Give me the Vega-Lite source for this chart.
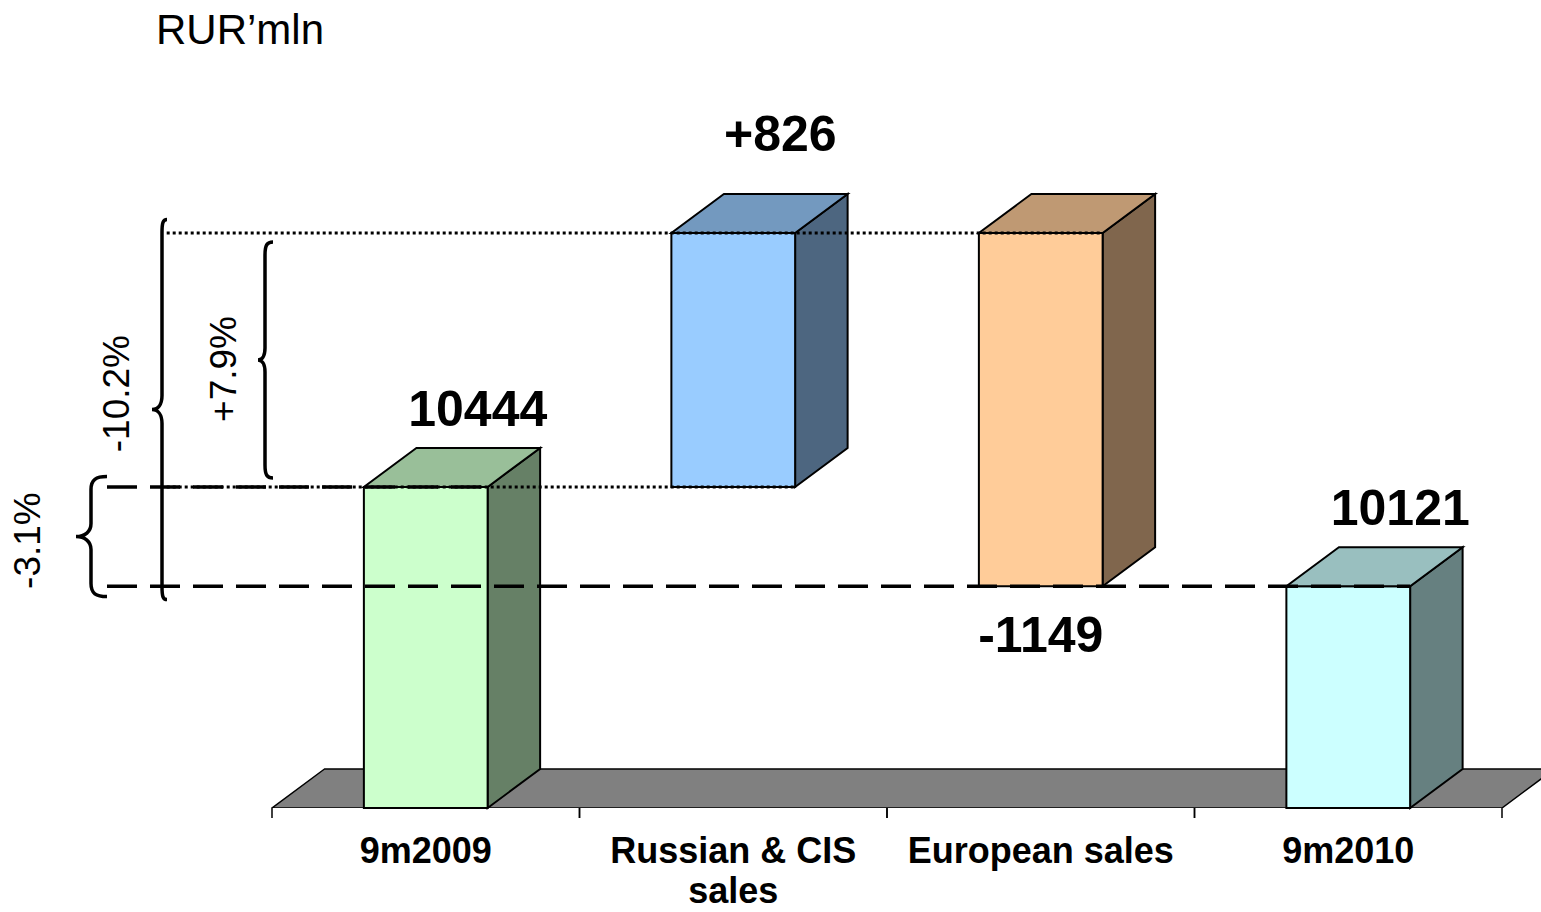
{
  "$schema": "https://vega.github.io/schema/vega-lite/v6.json",
  "width": 1541,
  "height": 748,
  "autosize": {"type": "none"},
  "padding": {"left": 0, "top": 60, "right": 0, "bottom": 104},
  "background": "white",
  "config": {"view": {"stroke": null}, "font": "Liberation Sans"},
  "title": {"text": "RUR’mln", "anchor": "start", "frame": "group", "dx": 156, "dy": 34, "offset": 8, "fontSize": 42, "fontWeight": "normal", "font": "Liberation Sans", "color": "black", "baseline": "alphabetic"},
  "datasets": {
    "bars": [
      {"category": "9m2009", "order": 1, "kind": "total", "start": 0, "end": 10444},
      {"category": "Russian & CIS sales", "order": 2, "kind": "change", "start": 10444, "end": 11270},
      {"category": "European sales", "order": 3, "kind": "change", "start": 11270, "end": 10121},
      {"category": "9m2010", "order": 4, "kind": "total", "start": 0, "end": 10121}
    ],
    "braces": [
      {"label": "-3.1%", "from": 10444, "to": 10121},
      {"label": "-10.2%", "from": 11270, "to": 10121},
      {"label": "+7.9%", "from": 10444, "to": 11270}
    ]
  },
  "data": {"name": "bars"},
  "transform": [
    {"calculate": "datum.order - 0.7012", "as": "fl"},
    {"calculate": "datum.order - 0.2988", "as": "fr"},
    {"calculate": "max(min(datum.start, datum.end), 9400)", "as": "lo"},
    {"calculate": "max(datum.start, datum.end)", "as": "hi"},
    {"calculate": "datum.order - 0.5", "as": "mid"},
    {"calculate": "datum.kind == 'total' ? '' + datum.end : (datum.end > datum.start ? '+' : '') + (datum.end - datum.start)", "as": "valueLabel"},
    {"calculate": "length(datum.category) > 16 ? substring(datum.category, 0, lastindexof(datum.category, ' ')) + '\\n' + substring(datum.category, lastindexof(datum.category, ' ') + 1) : datum.category", "as": "catLabel"}
  ],
  "resolve": {"scale": {"fill": "independent"}},
  "layer": [
    {
      "transform": [
        {"aggregate": [{"op": "min", "field": "order", "as": "o1"}, {"op": "max", "field": "order", "as": "o2"}]},
        {"calculate": "[0, 1]", "as": "t"},
        {"flatten": ["t"]},
        {"calculate": "datum.o1 - 1 + datum.t * 0.17073", "as": "fx"},
        {"calculate": "datum.o2 + datum.t * 0.17073", "as": "fx2"},
        {"calculate": "9400 + datum.t * 126.8", "as": "fy"}
      ],
      "mark": {"type": "area", "orient": "horizontal", "fill": "#808080", "stroke": "black", "strokeWidth": 1.5, "opacity": 1, "clip": true},
      "encoding": {
        "y": {"field": "fy", "type": "quantitative", "scale": {"domain": [9400, 11832.4], "nice": false, "zero": false}, "axis": null},
        "x": {"field": "fx", "type": "quantitative", "scale": {"domain": [-0.88455, 4.12683], "nice": false, "zero": false}, "axis": null, "stack": null},
        "x2": {"field": "fx2"}
      }
    },
    {
      "transform": [
        {"calculate": "[datum.order - 1, datum.order]", "as": "b"},
        {"flatten": ["b"]},
        {"calculate": "9400", "as": "k0"},
        {"calculate": "9367.5", "as": "k1"}
      ],
      "mark": {"type": "rule", "color": "black", "strokeWidth": 1.5},
      "encoding": {
        "x": {"field": "b", "type": "quantitative", "scale": {"domain": [-0.88455, 4.12683], "nice": false, "zero": false}, "axis": null},
        "y": {"field": "k0", "type": "quantitative", "scale": {"domain": [9400, 11832.4], "nice": false, "zero": false}, "axis": null},
        "y2": {"field": "k1"}
      }
    },
    {
      "transform": [
        {"calculate": "[0, 1]", "as": "t"},
        {"flatten": ["t"]},
        {"calculate": "datum.fr + datum.t * 0.17073", "as": "sx"},
        {"calculate": "datum.lo + datum.t * 126.8", "as": "sy"},
        {"calculate": "datum.hi + datum.t * 126.8", "as": "sy2"}
      ],
      "mark": {"type": "area", "orient": "vertical", "stroke": "black", "strokeWidth": 2, "opacity": 1},
      "encoding": {
        "x": {"field": "sx", "type": "quantitative", "scale": {"domain": [-0.88455, 4.12683], "nice": false, "zero": false}, "axis": null},
        "y": {"field": "sy", "type": "quantitative", "scale": {"domain": [9400, 11832.4], "nice": false, "zero": false}, "axis": null, "stack": null},
        "y2": {"field": "sy2"},
        "detail": {"field": "category", "type": "nominal"},
        "fill": {"field": "category", "type": "nominal", "scale": {"domain": ["9m2009", "Russian & CIS sales", "European sales", "9m2010"], "range": ["#668066", "#4D6680", "#80664D", "#668080"]}, "legend": null}
      }
    },
    {
      "mark": {"type": "rect", "stroke": "black", "strokeWidth": 2, "opacity": 1},
      "encoding": {
        "x": {"field": "fl", "type": "quantitative", "scale": {"domain": [-0.88455, 4.12683], "nice": false, "zero": false}, "axis": null},
        "x2": {"field": "fr"},
        "y": {"field": "lo", "type": "quantitative", "scale": {"domain": [9400, 11832.4], "nice": false, "zero": false}, "axis": null},
        "y2": {"field": "hi"},
        "fill": {"field": "category", "type": "nominal", "scale": {"domain": ["9m2009", "Russian & CIS sales", "European sales", "9m2010"], "range": ["#CCFFCC", "#99CCFF", "#FFCC99", "#CCFFFF"]}, "legend": null}
      }
    },
    {
      "transform": [
        {"calculate": "[0, 1]", "as": "t"},
        {"flatten": ["t"]},
        {"calculate": "datum.fl + datum.t * 0.17073", "as": "tx"},
        {"calculate": "datum.fr + datum.t * 0.17073", "as": "tx2"},
        {"calculate": "datum.hi + datum.t * 126.8", "as": "ty"}
      ],
      "mark": {"type": "area", "orient": "horizontal", "stroke": "black", "strokeWidth": 2, "opacity": 1},
      "encoding": {
        "y": {"field": "ty", "type": "quantitative", "scale": {"domain": [9400, 11832.4], "nice": false, "zero": false}, "axis": null},
        "x": {"field": "tx", "type": "quantitative", "scale": {"domain": [-0.88455, 4.12683], "nice": false, "zero": false}, "axis": null, "stack": null},
        "x2": {"field": "tx2"},
        "detail": {"field": "category", "type": "nominal"},
        "fill": {"field": "category", "type": "nominal", "scale": {"domain": ["9m2009", "Russian & CIS sales", "European sales", "9m2010"], "range": ["#99BF99", "#7399BF", "#BF9973", "#99BFBF"]}, "legend": null}
      }
    },
    {
      "transform": [{"filter": "datum.kind == 'total'"}, {"calculate": "-0.53659", "as": "gx"}],
      "mark": {"type": "rule", "strokeDash": [30, 13], "strokeWidth": 3.5, "color": "black"},
      "encoding": {
        "x": {"field": "gx", "type": "quantitative", "scale": {"domain": [-0.88455, 4.12683], "nice": false, "zero": false}, "axis": null},
        "x2": {"field": "fr"},
        "y": {"field": "end", "type": "quantitative", "scale": {"domain": [9400, 11832.4], "nice": false, "zero": false}, "axis": null}
      }
    },
    {
      "transform": [{"filter": "datum.kind != 'total'"}, {"calculate": "-0.34244", "as": "gx"}],
      "mark": {"type": "rule", "strokeDash": [3, 3], "strokeWidth": 3, "color": "black"},
      "encoding": {
        "x": {"field": "gx", "type": "quantitative", "scale": {"domain": [-0.88455, 4.12683], "nice": false, "zero": false}, "axis": null},
        "x2": {"field": "fr"},
        "y": {"field": "start", "type": "quantitative", "scale": {"domain": [9400, 11832.4], "nice": false, "zero": false}, "axis": null}
      }
    },
    {
      "data": {"name": "braces"},
      "transform": [{"filter": "datum.label == '-3.1%'"}, {"calculate": "(datum.from + datum.to) / 2", "as": "m"}],
      "encoding": {"y": {"field": "m", "type": "quantitative", "scale": {"domain": [9400, 11832.4], "nice": false, "zero": false}, "axis": null}},
      "layer": [
        {
          "mark": {"type": "point", "shape": "M16,-60 C5,-60 0,-57 0,-47 L0,-13 C0,-5 -6,0 -15,0 C-6,0 0,5 0,13 L0,47 C0,57 5,60 16,60", "size": 4, "filled": false, "stroke": "black", "strokeWidth": 3.5, "opacity": 1},
          "encoding": {"x": {"datum": -0.58862, "type": "quantitative", "scale": {"domain": [-0.88455, 4.12683], "nice": false, "zero": false}, "axis": null}}
        },
        {
          "mark": {"type": "text", "angle": 270, "fontSize": 37, "font": "Liberation Sans", "align": "center", "baseline": "middle", "color": "black", "dx": -4},
          "encoding": {
            "x": {"datum": -0.79024, "type": "quantitative", "scale": {"domain": [-0.88455, 4.12683], "nice": false, "zero": false}, "axis": null},
            "text": {"field": "label", "type": "nominal"}
          }
        }
      ]
    },
    {
      "data": {"name": "braces"},
      "transform": [{"filter": "datum.label == '-10.2%'"}, {"calculate": "(datum.from + datum.to) / 2", "as": "m"}],
      "encoding": {"y": {"field": "m", "type": "quantitative", "scale": {"domain": [9400, 11832.4], "nice": false, "zero": false}, "axis": null}},
      "layer": [
        {
          "mark": {"type": "point", "shape": "M5,-190 C1,-190 0,-187 0,-177 L0,-14 C0,-5 -4,0 -10,0 C-4,0 0,5 0,14 L0,177 C0,187 1,190 5,190", "size": 4, "filled": false, "stroke": "black", "strokeWidth": 3.5, "opacity": 1},
          "encoding": {"x": {"datum": -0.35772, "type": "quantitative", "scale": {"domain": [-0.88455, 4.12683], "nice": false, "zero": false}, "axis": null}}
        },
        {
          "mark": {"type": "text", "angle": 270, "fontSize": 37, "font": "Liberation Sans", "align": "center", "baseline": "middle", "color": "black", "dx": 16},
          "encoding": {
            "x": {"datum": -0.50081, "type": "quantitative", "scale": {"domain": [-0.88455, 4.12683], "nice": false, "zero": false}, "axis": null},
            "text": {"field": "label", "type": "nominal"}
          }
        }
      ]
    },
    {
      "data": {"name": "braces"},
      "transform": [{"filter": "datum.label == '+7.9%'"}, {"calculate": "(datum.from + datum.to) / 2", "as": "m"}],
      "encoding": {"y": {"field": "m", "type": "quantitative", "scale": {"domain": [9400, 11832.4], "nice": false, "zero": false}, "axis": null}},
      "layer": [
        {
          "mark": {"type": "point", "shape": "M8,-118 C2,-118 0,-115 0,-105 L0,-12 C0,-4 -3,0 -7,0 C-3,0 0,4 0,12 L0,105 C0,115 2,118 8,118", "size": 4, "filled": false, "stroke": "black", "strokeWidth": 3.5, "opacity": 1},
          "encoding": {"x": {"datum": -0.02276, "type": "quantitative", "scale": {"domain": [-0.88455, 4.12683], "nice": false, "zero": false}, "axis": null}}
        },
        {
          "mark": {"type": "text", "angle": 270, "fontSize": 37, "font": "Liberation Sans", "align": "center", "baseline": "middle", "color": "black", "dx": -9},
          "encoding": {
            "x": {"datum": -0.15285, "type": "quantitative", "scale": {"domain": [-0.88455, 4.12683], "nice": false, "zero": false}, "axis": null},
            "text": {"field": "label", "type": "nominal"}
          }
        }
      ]
    },
    {
      "mark": {"type": "text", "fontSize": 36, "fontWeight": "bold", "font": "Liberation Sans", "align": "center", "baseline": "alphabetic", "dy": 55, "lineBreak": "\n", "lineHeight": 40, "color": "black"},
      "encoding": {
        "x": {"field": "mid", "type": "quantitative", "scale": {"domain": [-0.88455, 4.12683], "nice": false, "zero": false}, "axis": null},
        "y": {"datum": 9400, "type": "quantitative", "scale": {"domain": [9400, 11832.4], "nice": false, "zero": false}, "axis": null},
        "text": {"field": "catLabel", "type": "nominal"}
      }
    },
    {
      "transform": [{"filter": "datum.kind == 'total'"}],
      "mark": {"type": "text", "fontSize": 50, "fontWeight": "bold", "font": "Liberation Sans", "align": "center", "baseline": "alphabetic", "dx": 52, "dy": -61, "color": "black"},
      "encoding": {
        "x": {"field": "mid", "type": "quantitative", "scale": {"domain": [-0.88455, 4.12683], "nice": false, "zero": false}, "axis": null},
        "y": {"field": "hi", "type": "quantitative", "scale": {"domain": [9400, 11832.4], "nice": false, "zero": false}, "axis": null},
        "text": {"field": "valueLabel", "type": "nominal"}
      }
    },
    {
      "transform": [{"filter": "datum.kind != 'total' && datum.end > datum.start"}],
      "mark": {"type": "text", "fontSize": 50, "fontWeight": "bold", "font": "Liberation Sans", "align": "center", "baseline": "alphabetic", "dx": 47, "dy": -82, "color": "black"},
      "encoding": {
        "x": {"field": "mid", "type": "quantitative", "scale": {"domain": [-0.88455, 4.12683], "nice": false, "zero": false}, "axis": null},
        "y": {"field": "hi", "type": "quantitative", "scale": {"domain": [9400, 11832.4], "nice": false, "zero": false}, "axis": null},
        "text": {"field": "valueLabel", "type": "nominal"}
      }
    },
    {
      "transform": [{"filter": "datum.kind != 'total' && datum.end < datum.start"}],
      "mark": {"type": "text", "fontSize": 50, "fontWeight": "bold", "font": "Liberation Sans", "align": "center", "baseline": "alphabetic", "dx": 0, "dy": 66, "color": "black"},
      "encoding": {
        "x": {"field": "mid", "type": "quantitative", "scale": {"domain": [-0.88455, 4.12683], "nice": false, "zero": false}, "axis": null},
        "y": {"field": "lo", "type": "quantitative", "scale": {"domain": [9400, 11832.4], "nice": false, "zero": false}, "axis": null},
        "text": {"field": "valueLabel", "type": "nominal"}
      }
    }
  ]
}
